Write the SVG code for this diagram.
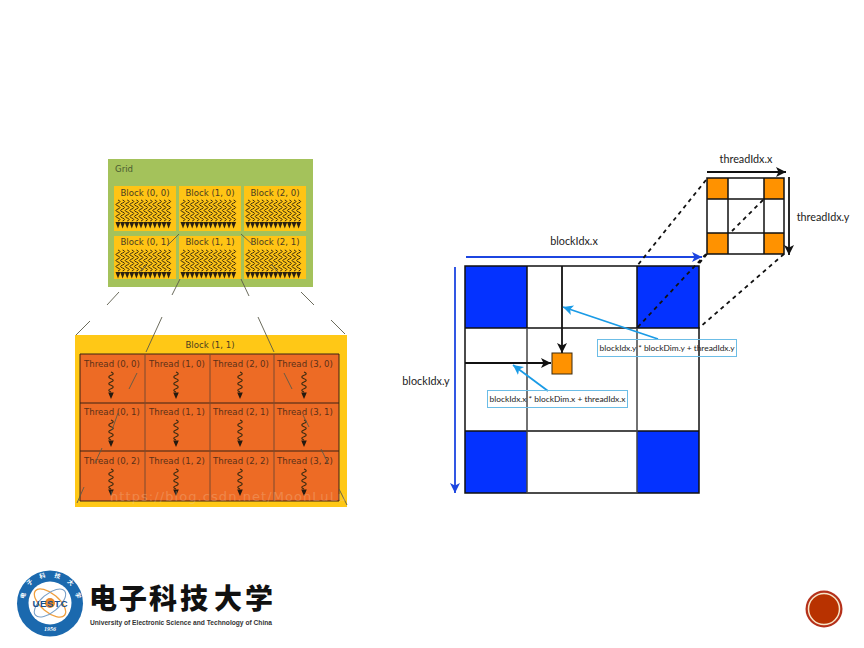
<svg xmlns="http://www.w3.org/2000/svg" xmlns:xlink="http://www.w3.org/1999/xlink" width="864" height="648" viewBox="0 0 864 648">
<style>
.blk{font:8.6px "DejaVu Sans",sans-serif;fill:#4a3c20;text-anchor:middle}
.thr{font:8.6px "DejaVu Sans",sans-serif;fill:#5a3018;text-anchor:middle}
.lab{font:10.8px Lato,sans-serif;fill:#222;text-anchor:middle}
.sm{font:8.4px Lato,sans-serif;fill:#222;text-anchor:middle}
.stray{stroke:#5a5a4a;stroke-width:.9;fill:none}
.cell{fill:none;stroke:#111;stroke-width:1.5}
.dash{stroke:#111;stroke-width:1.8;stroke-dasharray:4 4;fill:none}
.wave{fill:none;stroke:#3a2a10;stroke-width:1}
.hint{fill:none;stroke:#6cbde6;stroke-width:1}
</style>
<defs>
<marker id="mb" markerUnits="userSpaceOnUse" markerWidth="11" markerHeight="12" refX="10" refY="5" orient="auto"><path d="M0 0L10 5L0 10L2.5 5Z" fill="#1c45e0"/></marker>
<marker id="mk" markerUnits="userSpaceOnUse" markerWidth="11" markerHeight="12" refX="10" refY="5" orient="auto"><path d="M0 0L10 5L0 10L2.5 5Z" fill="#111"/></marker>
<marker id="mc" markerUnits="userSpaceOnUse" markerWidth="11" markerHeight="12" refX="10" refY="5" orient="auto"><path d="M0 0L10 5L0 10L2.5 5Z" fill="#1a9be6"/></marker>
<g id="t1"><path class="wave" d="M0 0q4 1.500 0 3q-4 1.500 0 3q4 1.500 0 3q-4 1.500 0 3q4 1.500 0 3q-4 1.500 0 3q4 1.500 0 3"/><path d="M-2.500 22H2.500L0 28.500Z" fill="#2a2010"/></g>
<g id="ts"><use xlink:href="#t1" x="0"/><use xlink:href="#t1" x="4.600"/><use xlink:href="#t1" x="9.200"/><use xlink:href="#t1" x="13.800"/><use xlink:href="#t1" x="18.400"/><use xlink:href="#t1" x="23"/><use xlink:href="#t1" x="27.600"/><use xlink:href="#t1" x="32.200"/><use xlink:href="#t1" x="36.800"/><use xlink:href="#t1" x="41.400"/><use xlink:href="#t1" x="46"/><use xlink:href="#t1" x="50.600"/></g>
<g id="tb"><path class="wave" style="stroke-width:1.100" d="M0 0q4.500 1.700 0 3.300q-4.500 1.700 0 3.400q4.500 1.600 0 3.300q-4.500 1.700 0 3.300q4.500 1.700 0 3.400q-4.500 1.600 0 3.300"/><path d="M-2.800 20.500H2.800L0 27Z" fill="#241a10"/></g>
</defs>
<rect width="864" height="648" fill="#fff"/>

<g id="grid">
<rect x="108" y="159" width="205" height="128" fill="#a4c25b"/>
<text x="115" y="172" style="font:8.600px 'DejaVu Sans',sans-serif;fill:#4a5a30">Grid</text>
</g>
<g id="block-0-0"><rect x="114" y="186" width="62" height="45" fill="#ffc415"/><text class="blk" x="145" y="196">Block (0, 0)</text><use xlink:href="#ts" x="118" y="200"/></g>
<g id="block-1-0"><rect x="179" y="186" width="62" height="45" fill="#ffc415"/><text class="blk" x="210" y="196">Block (1, 0)</text><use xlink:href="#ts" x="183" y="200"/></g>
<g id="block-2-0"><rect x="244" y="186" width="62" height="45" fill="#ffc415"/><text class="blk" x="275" y="196">Block (2, 0)</text><use xlink:href="#ts" x="248" y="200"/></g>
<g id="block-0-1"><rect x="114" y="236" width="62" height="43" fill="#ffc415"/><text class="blk" x="145" y="245">Block (0, 1)</text><use xlink:href="#ts" x="118" y="250"/></g>
<g id="block-1-1"><rect x="179" y="236" width="62" height="43" fill="#ffc415"/><text class="blk" x="210" y="245">Block (1, 1)</text><use xlink:href="#ts" x="183" y="250"/></g>
<g id="block-2-1"><rect x="244" y="236" width="62" height="43" fill="#ffc415"/><text class="blk" x="275" y="245">Block (2, 1)</text><use xlink:href="#ts" x="248" y="250"/></g>

<g id="block-detail">
<rect x="75" y="335" width="272" height="172" fill="#ffc816"/>
<text class="blk" x="210" y="348">Block (1, 1)</text>
<rect x="80" y="354" width="259" height="147" fill="#ed6b25"/>
<path d="M80 354H339V501H80ZM80 403H339M80 451H339" fill="none" stroke="#3a2214" stroke-width="1"/>
<path d="M145 354V501M210 354V501M274 354V501" fill="none" stroke="#7a4a30" stroke-width="1"/>
</g>
<g id="thread-0-0"><text class="thr" x="112" y="367">Thread (0, 0)</text><use xlink:href="#tb" x="111" y="372"/></g>
<g id="thread-1-0"><text class="thr" x="177" y="367">Thread (1, 0)</text><use xlink:href="#tb" x="176" y="372"/></g>
<g id="thread-2-0"><text class="thr" x="241" y="367">Thread (2, 0)</text><use xlink:href="#tb" x="240" y="372"/></g>
<g id="thread-3-0"><text class="thr" x="305" y="367">Thread (3, 0)</text><use xlink:href="#tb" x="304" y="372"/></g>
<g id="thread-0-1"><text class="thr" x="112" y="415">Thread (0, 1)</text><use xlink:href="#tb" x="111" y="420"/></g>
<g id="thread-1-1"><text class="thr" x="177" y="415">Thread (1, 1)</text><use xlink:href="#tb" x="176" y="420"/></g>
<g id="thread-2-1"><text class="thr" x="241" y="415">Thread (2, 1)</text><use xlink:href="#tb" x="240" y="420"/></g>
<g id="thread-3-1"><text class="thr" x="305" y="415">Thread (3, 1)</text><use xlink:href="#tb" x="304" y="420"/></g>
<g id="thread-0-2"><text class="thr" x="112" y="464">Thread (0, 2)</text><use xlink:href="#tb" x="111" y="469"/></g>
<g id="thread-1-2"><text class="thr" x="177" y="464">Thread (1, 2)</text><use xlink:href="#tb" x="176" y="469"/></g>
<g id="thread-2-2"><text class="thr" x="241" y="464">Thread (2, 2)</text><use xlink:href="#tb" x="240" y="469"/></g>
<g id="thread-3-2"><text class="thr" x="305" y="464">Thread (3, 2)</text><use xlink:href="#tb" x="304" y="469"/></g>

<g id="zoom-lines" class="stray">
<path d="M179 234L167 246M241 234L253 245M147 265L139 272M272 265L278 272M119 292L107 305M180 279L172 295M241 279L249 296M301 292L314 305M162 317L146 352M258 317L274 352M90 321L76 335M331 320L345 334M137 373L129 389M284 373L292 389M118 413L112 430M303 415L309 427M102 448L95 463M321 449L328 463M84 487L77 503M339 489L347 505"/>
</g>
<text x="110" y="501" textLength="236" style="font:13px 'DejaVu Sans',sans-serif;fill:#f3c8a0;opacity:.3">https://blog.csdn.net/MoonLuLu</text>

<g id="block-map">
<rect x="465" y="266" width="62" height="62" fill="#0432ff"/>
<rect x="637" y="266" width="62" height="62" fill="#0432ff"/>
<rect x="465" y="431" width="62" height="62" fill="#0432ff"/>
<rect x="637" y="431" width="62" height="62" fill="#0432ff"/>
<path class="cell" d="M465 266H699V493H465ZM465 328H699M465 431H699M527 266V328M637 266V328"/>
<path d="M527 328V493M637 328V493" fill="none" stroke="#444" stroke-width="1.500"/>
</g>
<g id="target-thread"><rect x="552" y="353" width="20" height="21" fill="#ff9200" stroke="#3a2a10" stroke-width="1"/></g>
<g id="thread-map">
<rect x="707" y="178" width="21" height="21" fill="#ff9200"/>
<rect x="764" y="178" width="20" height="21" fill="#ff9200"/>
<rect x="707" y="233" width="21" height="21" fill="#ff9200"/>
<rect x="764" y="233" width="20" height="21" fill="#ff9200"/>
<path class="cell" d="M707 178H784V254H707ZM707 199H784M707 233H784M728 178V254M764 178V254"/>
</g>

<g id="connectors">
<path d="M466 257H702" stroke="#1c45e0" stroke-width="1.800" fill="none" marker-end="url(#mb)"/>
<path d="M455 267V493" stroke="#1c45e0" stroke-width="1.800" fill="none" marker-end="url(#mb)"/>
<path d="M707 172H786" stroke="#111" stroke-width="1.800" fill="none" marker-end="url(#mk)"/>
<path d="M789 177V255" stroke="#111" stroke-width="1.800" fill="none" marker-end="url(#mk)"/>
<path d="M562 266V353" stroke="#111" stroke-width="1.800" fill="none" marker-end="url(#mk)"/>
<path d="M465 363H551" stroke="#111" stroke-width="1.800" fill="none" marker-end="url(#mk)"/>
<path class="dash" d="M706 180L637 266M706 254L637 328M707 254L697 266M784 254L699 328M763 200L732 231"/>
<path d="M658 339L563 307" stroke="#1a9be6" stroke-width="1.800" fill="none" marker-end="url(#mc)"/>
<path d="M548 391L513 365" stroke="#1a9be6" stroke-width="1.800" fill="none" marker-end="url(#mc)"/>
</g>
<g id="labels">
<text class="lab" x="746" y="163">threadIdx.x</text>
<text class="lab" x="823" y="221">threadIdx.y</text>
<text class="lab" x="574" y="245">blockIdx.x</text>
<text class="lab" x="426" y="385">blockIdx.y</text>
</g>
<g id="hint-y"><rect class="hint" x="597.500" y="339.500" width="139" height="17"/><text class="sm" x="667" y="351">blockIdx.y * blockDim.y + threadIdx.y</text></g>
<g id="hint-x"><rect class="hint" x="487.500" y="390.500" width="140" height="17"/><text class="sm" x="557.500" y="402">blockIdx.x * blockDim.x + threadIdx.x</text></g>

<g id="logo">
<circle cx="50" cy="603.500" r="33" fill="#1b69ae"/>
<circle cx="50" cy="603" r="21.500" fill="#fff"/>
<ellipse cx="50" cy="603" rx="19" ry="9" fill="none" stroke="#f0a040" stroke-width="1.300" transform="rotate(40 50 603)"/>
<ellipse cx="50" cy="603" rx="19" ry="9" fill="none" stroke="#7aa0c8" stroke-width="1.100" transform="rotate(-40 50 603)"/>
<circle cx="50" cy="603" r="5" fill="#e8872a"/>
<text x="50" y="606.500" text-anchor="middle" style="font:bold 9.500px 'Liberation Sans',sans-serif;fill:#174f8c" textLength="35">UESTC</text>
<g style="font:bold 6px 'Noto Sans CJK SC',sans-serif;fill:#fff" text-anchor="middle">
<text transform="translate(25,596) rotate(-75)">电</text>
<text transform="translate(31,584) rotate(-45)">子</text>
<text transform="translate(43,578) rotate(-15)">科</text>
<text transform="translate(57,578) rotate(15)">技</text>
<text transform="translate(69,584) rotate(45)">大</text>
<text transform="translate(76,596) rotate(75)">学</text>
</g>
<text x="50" y="631" text-anchor="middle" style="font:italic bold 6px 'Liberation Serif',serif;fill:#fff">1956</text>
<g style="font:900 28px 'Noto Sans CJK SC',sans-serif;fill:#111" text-anchor="middle">
<text x="103" y="609">电</text><text x="133" y="609">子</text><text x="163" y="609">科</text><text x="194" y="609">技</text><text x="228" y="609">大</text><text x="259" y="609">学</text>
</g>
<text x="90" y="625" textLength="182" lengthAdjust="spacingAndGlyphs" style="font:bold 8px 'Liberation Sans',sans-serif;fill:#333">University of Electronic Science and Technology of China</text>
</g>
<g id="page-badge">
<circle cx="824" cy="609" r="18.500" fill="#b5301a"/>
<circle cx="824" cy="609" r="15.500" fill="#b83200" stroke="#f7e6c8" stroke-width="1.500"/>
</g>
</svg>
